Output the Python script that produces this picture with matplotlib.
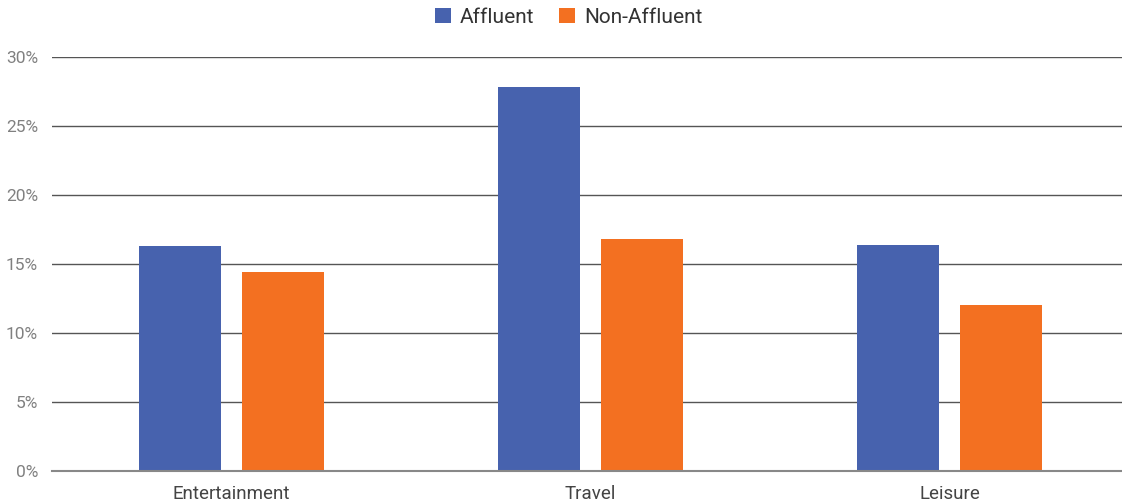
import matplotlib
matplotlib.use("Agg")
import matplotlib.pyplot as plt
import numpy as np

categories = ["Entertainment", "Travel", "Leisure"]
affluent = [16.3, 27.8, 16.4]
non_affluent = [14.4, 16.8, 12.0]
series_names = ["Affluent", "Non-Affluent"]
y_ticks = [0, 5, 10, 15, 20, 25, 30]
y_tick_labels = ["0%", "5%", "10%", "15%", "20%", "25%", "30%"]

blue = "#4762AE"
orange = "#F37021"

plt.rcParams["font.family"] = ["Roboto", "DejaVu Sans"]

fig = plt.figure(figsize=(11.22, 5.04), dpi=100)
ax = fig.add_axes([52 / 1122, 1 - 471 / 504, 1077 / 1122, (471 - 57) / 504])

x = np.arange(len(categories))
w = 0.227
off = 0.144
ax.bar(x - off, affluent, w, color=blue, label=series_names[0], zorder=3)
ax.bar(x + off, non_affluent, w, color=orange, label=series_names[1], zorder=3)

ax.set_xlim(-0.5, len(categories) - 0.5)
ax.set_ylim(0, 30)
ax.set_yticks(y_ticks)
ax.set_yticklabels(y_tick_labels)
ax.set_xticks(x)
ax.set_xticklabels(categories)

ax.grid(axis="y", color="#555555", linewidth=1.0, zorder=0)
ax.set_axisbelow(True)
for s in ["top", "right", "left"]:
    ax.spines[s].set_visible(False)
ax.spines["bottom"].set_color("#888888")
ax.spines["bottom"].set_linewidth(1.5)
ax.spines["bottom"].set_zorder(4)

ax.tick_params(axis="y", length=0, pad=10, labelsize=12.5, labelcolor="#808080")
ax.tick_params(axis="x", length=0, pad=10, labelsize=13.5, labelcolor="#444444")

leg = fig.legend(loc="upper center", bbox_to_anchor=(0.507, 1.022), ncol=2, frameon=False,
                 handlelength=0.75, handleheight=0.75, handletextpad=0.45, columnspacing=1.2,
                 prop={"size": 15})
for t in leg.get_texts():
    t.set_color("#333333")

fig.savefig("out.png", dpi=100)
